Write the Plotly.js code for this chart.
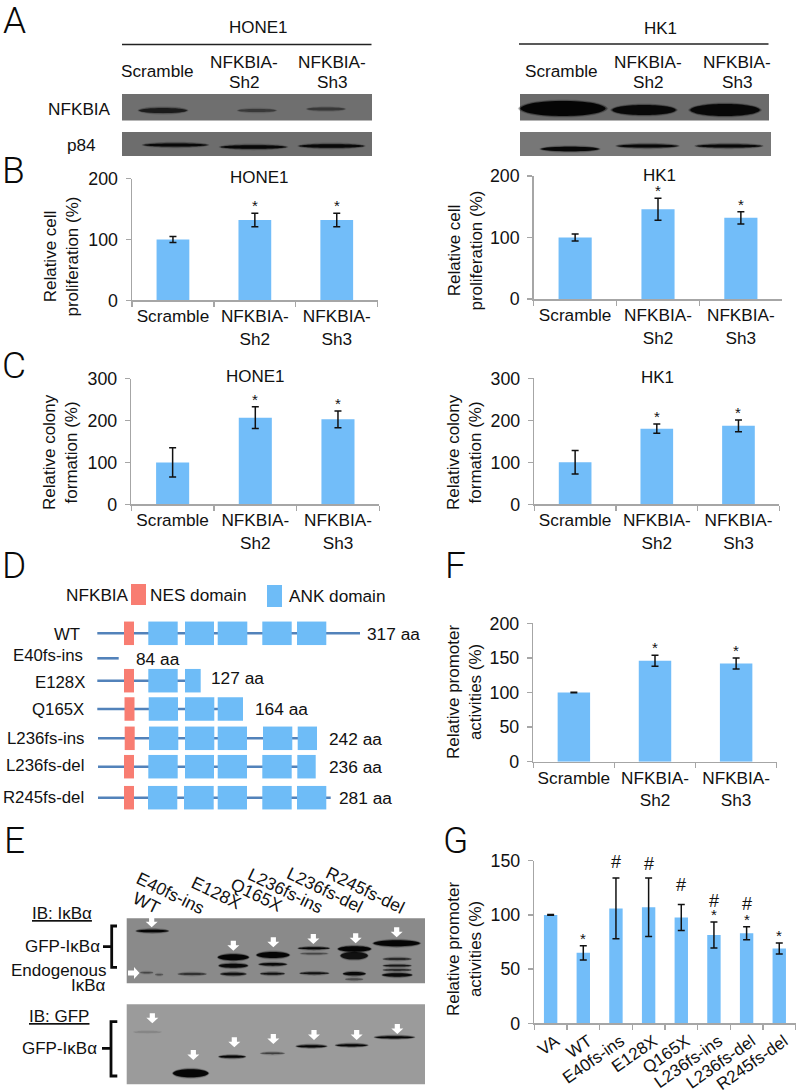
<!DOCTYPE html>
<html><head><meta charset="utf-8">
<script src="https://cdn.plot.ly/plotly-3.0.1.min.js"></script>
<style>html,body{margin:0;padding:0;background:#fff}#chart{width:796px;height:1091px}</style>
</head><body><div id="chart"></div>
<script>
// ---------- chart data ----------
const shCategories = ['Scramble', 'NFKBIA-<br>Sh2', 'NFKBIA-<br>Sh3'];
const proliferationHone1 = [100, 132, 132];
const proliferationHone1Err = [5, 11, 11];
const proliferationHk1 = [100, 146, 132];
const proliferationHk1Err = [5.5, 18, 10];
const colonyHone1 = [100, 207, 203];
const colonyHone1Err = [35, 26, 20];
const colonyHk1 = [100, 180, 187];
const colonyHk1Err = [28, 11, 14];
const promoterSh = [100, 146, 142];
const promoterShErr = [0.5, 8, 8];
const mutantCategories = ['VA', 'WT', 'E40fs-ins', 'E128X', 'Q165X', 'L236fs-ins', 'L236fs-del', 'R245fs-del'];
const promoterMutant = [100, 65, 106, 107, 97.5, 81.5, 83, 69];
const promoterMutantErr = [0.3, 6.5, 28, 27, 12, 12, 6, 5];
const starsSh = [false, true, true];
const starsMutant = [false, true, false, false, false, true, true, true];
const hashMutant = [false, false, true, true, true, true, true, false];
const hashLift = [0, 0, 4, 2, 8, 8.5, 11, 0];

// ---------- schematic of panel D (rows of the construct diagram) ----------
const constructNames = ['WT', 'E40fs-ins', 'E128X', 'Q165X', 'L236fs-ins', 'L236fs-del', 'R245fs-del'];
const constructLengths = ['317 aa', '84 aa', '127 aa', '164 aa', '242 aa', '236 aa', '281 aa'];
const rowY = [633.3, 658.3, 680.7, 709, 738.3, 766.7, 797.7];
const lineStart = [97.3, 97.3, 97.3, 97.3, 98, 98, 98];
const lineEnd = [360, 118.7, 185, 243, 317, 315, 330.7];
const nesStart = [124, null, 124, 124.5, 124.7, 124, 124];
const ankStart = [
  [148.3, 185, 217.7, 262.3, 297], [], [148.3, 185], [148.7, 185, 217.7],
  [149, 185, 217.7, 263, 297.7], [148.3, 185, 217.7, 262.3, 297.3], [148, 184, 217.7, 262.3, 297]];
const ankEnd = [
  [177.7, 214, 247.3, 291.7, 326.3], [], [177.7, 200.7], [178, 214.3, 243],
  [178.3, 214.3, 247, 292.3, 317], [177.7, 214, 247, 291.7, 315.7], [177.3, 213.7, 247, 291.7, 326.3]];
const nameLabelY = [634, 655.7, 682.7, 709, 738, 765.3, 797];
const nameLabelX = [81.7, 85, 86.7, 86, 86, 85.7, 85.7];
const lengthLabelX = [365, 134.3, 209, 253.3, 326.7, 327.3, 336.7];
const lengthLabelY = [634, 659, 677.7, 709, 739, 766.7, 797.7];

// ---------- layout helpers ----------
const W = 796, H = 1091;
const AXIS = '#a6a6a6', BAR = '#72bdf9', TXT = '#111';
const FONT = 'Liberation Sans, Arial, sans-serif';
const panels = [
  {k:'', l:132, r:377.7, t:178.7, b:300.3, max:200, dt:100, v:proliferationHone1, e:proliferationHone1Err, title:'HONE1', tx:259, ty:177, yt:'Relative cell<br>proliferation (%)', yx:60.5, yy:257},
  {k:'2', l:533.7, r:782.3, t:176, b:299, max:200, dt:100, v:proliferationHk1, e:proliferationHk1Err, title:'HK1', tx:659, ty:175, yt:'Relative cell<br>proliferation (%)', yx:464.5, yy:251},
  {k:'3', l:131.3, r:379.3, t:378.7, b:504.3, max:300, dt:100, v:colonyHone1, e:colonyHone1Err, title:'HONE1', tx:255.7, ty:376.7, yt:'Relative colony<br>formation (%)', yx:60, yy:452},
  {k:'4', l:534.3, r:779.3, t:378.3, b:504.3, max:300, dt:100, v:colonyHk1, e:colonyHk1Err, title:'HK1', tx:657.7, ty:377, yt:'Relative colony<br>formation (%)', yx:464, yy:452},
  {k:'5', l:533.3, r:776.7, t:623.3, b:761.7, max:200, dt:50, v:promoterSh, e:promoterShErr, yt:'Relative promoter<br>activities (%)', yx:464, yy:692}
];
const traces = [], annotations = [], shapes = [];
const layout = {
  width: W, height: H, margin: {l:0, r:0, t:0, b:0, pad:0}, autosize:false,
  paper_bgcolor:'#fff', plot_bgcolor:'rgba(0,0,0,0)', showlegend:false,
  barmode:'overlay', font:{family:FONT, size:17, color:TXT}
};
function axes(k, l, r, t, b, max, dt, cats, angle, shift) {
  const xn = 'xaxis'+k, yn = 'yaxis'+k;
  layout[xn] = {domain:[l/W, r/W], anchor:'y'+k, type:'category', categoryorder:'array', categoryarray:cats,
    range:[-0.5, cats.length-0.5], tickson:'boundaries', ticks:'outside', ticklen:5, tickwidth:1.3, tickcolor:AXIS,
    showline:true, linecolor:AXIS, linewidth:1.5, showgrid:false, zeroline:false, fixedrange:true,
    tickfont:{family:FONT, size:17.2, color:TXT}, tickangle:angle===undefined?0:angle, ticklabelshift:shift||0, automargin:false};
  layout[yn] = {domain:[1-b/H, 1-t/H], anchor:'x'+k, range:[0,max], dtick:dt, tick0:0, ticks:'outside', ticklen:5, tickwidth:1.3, tickcolor:AXIS,
    showline:true, linecolor:AXIS, linewidth:1.5, showgrid:false, zeroline:false, fixedrange:true, ticklabelstandoff:4,
    tickfont:{family:FONT, size:17.8, color:TXT}, automargin:false};
}
function bars(k, cats, v, e, w) {
  traces.push({type:'bar', x:cats, y:v, xaxis:'x'+k, yaxis:'y'+k, width:w, marker:{color:BAR, line:{width:0}},
    error_y:{type:'data', array:e, visible:true, color:'#111', thickness:1.5, width:3.5}, hoverinfo:'skip'});
}
function marks(k, cats, v, e, flags, ch, size, shift, lift) {
  cats.forEach((c,i)=>{ if(flags[i]) annotations.push({xref:'x'+k, yref:'y'+k, x:c, y:v[i]+e[i], yanchor:'bottom', yshift:shift+(lift?lift[i]:0),
    text:ch, showarrow:false, font:{family:FONT, size:size, color:TXT}}); });
}
panels.forEach(p=>{
  axes(p.k, p.l, p.r, p.t, p.b, p.max, p.dt, shCategories);
  bars(p.k, shCategories, p.v, p.e, 0.4);
  marks(p.k, shCategories, p.v, p.e, starsSh, '*', 15, -3);
  if(p.title) pixelText(p.title, p.tx, p.ty, 'center', 17);
  pixelText(p.yt, p.yx, p.yy, 'center', 17, {textangle:-90});
});
axes('6', 534.3, 795.6, 860.7, 1023.3, 150, 50, mutantCategories, -35, 5);
layout.xaxis6.ticklabelstandoff = 0;
layout.xaxis6.tickfont.size = 17;
bars('6', mutantCategories, promoterMutant, promoterMutantErr, 0.41);
marks('6', mutantCategories, promoterMutant, promoterMutantErr, starsMutant, '*', 15, -3);
marks('6', mutantCategories, promoterMutant, promoterMutantErr, hashMutant, '#', 18, 0, hashLift);
pixelText('Relative promoter<br>activities (%)', 464, 949, 'center', 17, {textangle:-90});

// overlay axes in picture pixels for the schematic parts
layout.xaxis7 = {domain:[0,1], anchor:'y7', range:[0,W], visible:false, fixedrange:true};
layout.yaxis7 = {domain:[0,1], anchor:'x7', range:[H,0], visible:false, fixedrange:true};

function pixelText(t, x, y, anchor, size, extra) {
  annotations.push(Object.assign({xref:'x7', yref:'y7', x, y, xanchor:anchor, yanchor:'middle', text:t, showarrow:false,
    font:{family:FONT, size:size||17, color:TXT}}, extra||{}));
}

// ---------- panel letters ----------
[['A',1,20],['B',0,170],['C',0,365],['D',0,565],['E',2,840],['F',443,565],['G',441,840]]
  .forEach(a=>pixelText(a[0], a[1], a[2], 'left', 37, {font:{family:'Roboto, Liberation Sans',size:37,color:'#0a0a0a',weight:300}}));

// ---------- panel D ----------
traces.push({type:'bar', orientation:'h', xaxis:'x7', yaxis:'y7', hoverinfo:'skip', y:rowY, base:lineStart,
  x:lineEnd.map((e,i)=>e-lineStart[i]), width:2.6, marker:{color:'#5282ba', line:{width:0}}});
const nx=[], nb=[], ny=[];
nesStart.forEach((s,i)=>{ if(s!==null){ nb.push(s); nx.push(10); ny.push(rowY[i]); }});
traces.push({type:'bar', orientation:'h', xaxis:'x7', yaxis:'y7', x:nx, base:nb, y:ny, width:23.5, marker:{color:'#f87d72', line:{width:0}}, hoverinfo:'skip'});
const ax=[], ab=[], ay=[];
ankStart.forEach((r,i)=>r.forEach((s,j)=>{ ab.push(s); ax.push(ankEnd[i][j]-s); ay.push(rowY[i]); }));
traces.push({type:'bar', orientation:'h', xaxis:'x7', yaxis:'y7', x:ax, base:ab, y:ay, width:23.5, marker:{color:'#6ebcf7', line:{width:0}}, hoverinfo:'skip'});
constructNames.forEach((n,i)=>{
  pixelText(n, nameLabelX[i], nameLabelY[i], 'right', 16.8);
  pixelText(constructLengths[i], lengthLabelX[i], lengthLabelY[i], 'left', 17.3);
});
pixelText('NFKBIA', 64, 595, 'left', 17.2);
pixelText('NES domain', 148, 595, 'left', 17.2);
pixelText('ANK domain', 287, 596, 'left', 17.2);
const rect = (x0,y0,x1,y1,c)=>shapes.push({type:'rect', xref:'x7', yref:'y7', x0,y0,x1,y1, fillcolor:c, line:{width:0}});
rect(131,584,146,605,'#f87d72');
rect(267,585,282,607,'#6ebcf7');

// ---------- blots ----------
function lens(cx,cy,hw,hh,c,op){
  const l=cx-hw, r=cx+hw, d=hh*1.33, k=hw*0.12;
  shapes.push({type:'path', xref:'x7', yref:'y7', fillcolor:c, opacity:op, line:{width:0},
    path:`M ${l} ${cy} C ${l+k} ${cy-d} ${r-k} ${cy-d} ${r} ${cy} C ${r-k} ${cy+d} ${l+k} ${cy+d} ${l} ${cy} Z`});
}
function band(cx,cy,hw,hh,op){
  lens(cx,cy,hw*1.03,hh+1.6,'#000',0.15*op);
  lens(cx,cy,hw*1.01,hh+0.8,'#000',0.3*op);
  lens(cx,cy,hw*0.97,hh,'#050505',op);
}
function rule(x0,y0,x1,y1,c,w){ shapes.push({type:'line', xref:'x7', yref:'y7', x0,y0,x1,y1, line:{color:c,width:w}}); }

// panel A
rule(122,44.5,371.5,44.5,'#222',1.3); rule(519,44,768.5,44,'#222',1.3);
rect(122,94,372,120.5,'#6f6f6f'); rect(122,132,372,156,'#6d6d6d');
rect(520,94,769,120.5,'#6b6b6b'); rect(520,132,771,156,'#777777');
[[163,110.5,25,2.6,.7],[257,110.5,20,1.5,.4],[326,109,20,1.5,.4]].forEach(b=>band(...b));
[[175.5,145,33,1.6,.95],[253.5,147,34,1.8,.95],[331.5,146,33.5,1.8,.95]].forEach(b=>band(...b));
[[563,108.5,44,7.5,1],[644,110,33,5,.95],[725,110,36,6,.95]].forEach(b=>band(...b));
[[570,149,30,2.2,.95],[647.5,146,31.5,1.6,.95],[729,146,34,1.6,.95]].forEach(b=>band(...b));
pixelText('HONE1',258.5,27,'center',17); pixelText('HK1',660,28,'center',17);
[[157,71,'Scramble'],[244,62,'NFKBIA-'],[244,82,'Sh2'],[332,62,'NFKBIA-'],[332,82,'Sh3'],
 [561,71,'Scramble'],[648,62,'NFKBIA-'],[648,82,'Sh2'],[737,62,'NFKBIA-'],[737,82,'Sh3'],
 [79,109,'NFKBIA'],[81,145,'p84']].forEach(t=>pixelText(t[2],t[0],t[1],'center',17.2));

// panel E
rect(126.7,918.3,425,983.3,'#8a8a8a'); rect(126.7,1004.3,425,1084.3,'#9b9b9b');
const Z=3, zx=x=>x/Z, zy=y=>830+y/Z;
function zband(x0,x1,y,hh,op){ band(zx((x0+x1)/2),zy(y),(x1-x0)/2/Z,hh/Z,op); }
[[407,507,303,4,1],[420,460,428,1.5,.5],[465,490,434,1.5,.4],[533,620,432,2.5,.7],
 [652,748,382,9,1],[655,745,407,6,.95],[660,740,432,4,.85],
 [768,870,375,9,1],[775,862,403,4,.95],[780,855,431,3,.85],
 [893,990,355,3,1],[900,985,371,1.5,.5],[898,988,430,3,.85],
 [1012,1115,357,8,1],[1020,1105,377,11,.85],[1028,1098,431,5,.95],[1035,1090,448,3,.35],
 [1118,1262,340,9,1],[1148,1235,387,2.5,.8],[1148,1235,407,2.5,.8],[1148,1235,420,2,.75],[1145,1238,435,5,.95],
 [400,485,606,1,.2],[517,627,730,12,1],[655,738,680,3.5,1],[780,855,670,2.5,.5],[887,982,649,3.5,1],[1005,1105,646,3.5,1],[1122,1245,622,3.5,1]
].forEach(b=>zband(...b));
function downArrow(zxTip,zyTip){
  const x=zx(zxTip), y=zy(zyTip);
  shapes.push({type:'path', xref:'x7', yref:'y7', fillcolor:'#fff', line:{width:0},
    path:`M ${x} ${y} L ${x-6} ${y-5.5} L ${x-2.6} ${y-5.5} L ${x-2.6} ${y-10} L ${x+2.6} ${y-10} L ${x+2.6} ${y-5.5} L ${x+6} ${y-5.5} Z`});
}
[[455,292],[700,362],[820,352],[940,342],[1067,340],[1190,322],
 [457,580],[580,690],[703,652],[820,642],[942,630],[1070,630],[1192,612]].forEach(a=>downArrow(...a));
shapes.push({type:'path', xref:'x7', yref:'y7', fillcolor:'#fff', line:{width:0},
  path:'M 139.5 973 L 134 967 L 134 970.4 L 128 970.4 L 128 975.6 L 134 975.6 L 134 979 Z'});
function bracket(top,bot,x,capX,midY,midX,w){
  shapes.push({type:'path', xref:'x7', yref:'y7', line:{color:'#0a0a0a',width:w||2.8},
    path:`M ${capX} ${top} L ${x} ${top} L ${x} ${bot} L ${capX} ${bot} M ${x} ${midY} L ${midX} ${midY}`});
}
bracket(926,967.3,111.7,117,946.7,103);
bracket(1021.7,1076,111,117.3,1048.3,102);
[['WT',146.7,902.7],['E40fs-ins',170,893],['E128X',216.7,892.7],['Q165X',256.7,895],['L236fs-ins',285.7,891],['L236fs-del',325,890],['R245fs-del',365,890]]
  .forEach(t=>pixelText(t[0],t[1],t[2],'center',17.5,{textangle:26}));
pixelText('<u>IB: IκBα</u>',61.7,913.3,'center',17);
pixelText('GFP-IκBα',101.7,946.7,'right',17);
pixelText('Endogenous',107.5,970.7,'right',17);
pixelText('IκBα',107.5,985,'right',17);
pixelText('<u>IB: GFP</u>',59,1016,'center',17);
pixelText('GFP-IκBα',99.3,1048.3,'right',17);

layout.annotations = annotations;
layout.shapes = shapes;
Plotly.newPlot('chart', traces, layout, {staticPlot:true, displayModeBar:false});
</script></body></html>
